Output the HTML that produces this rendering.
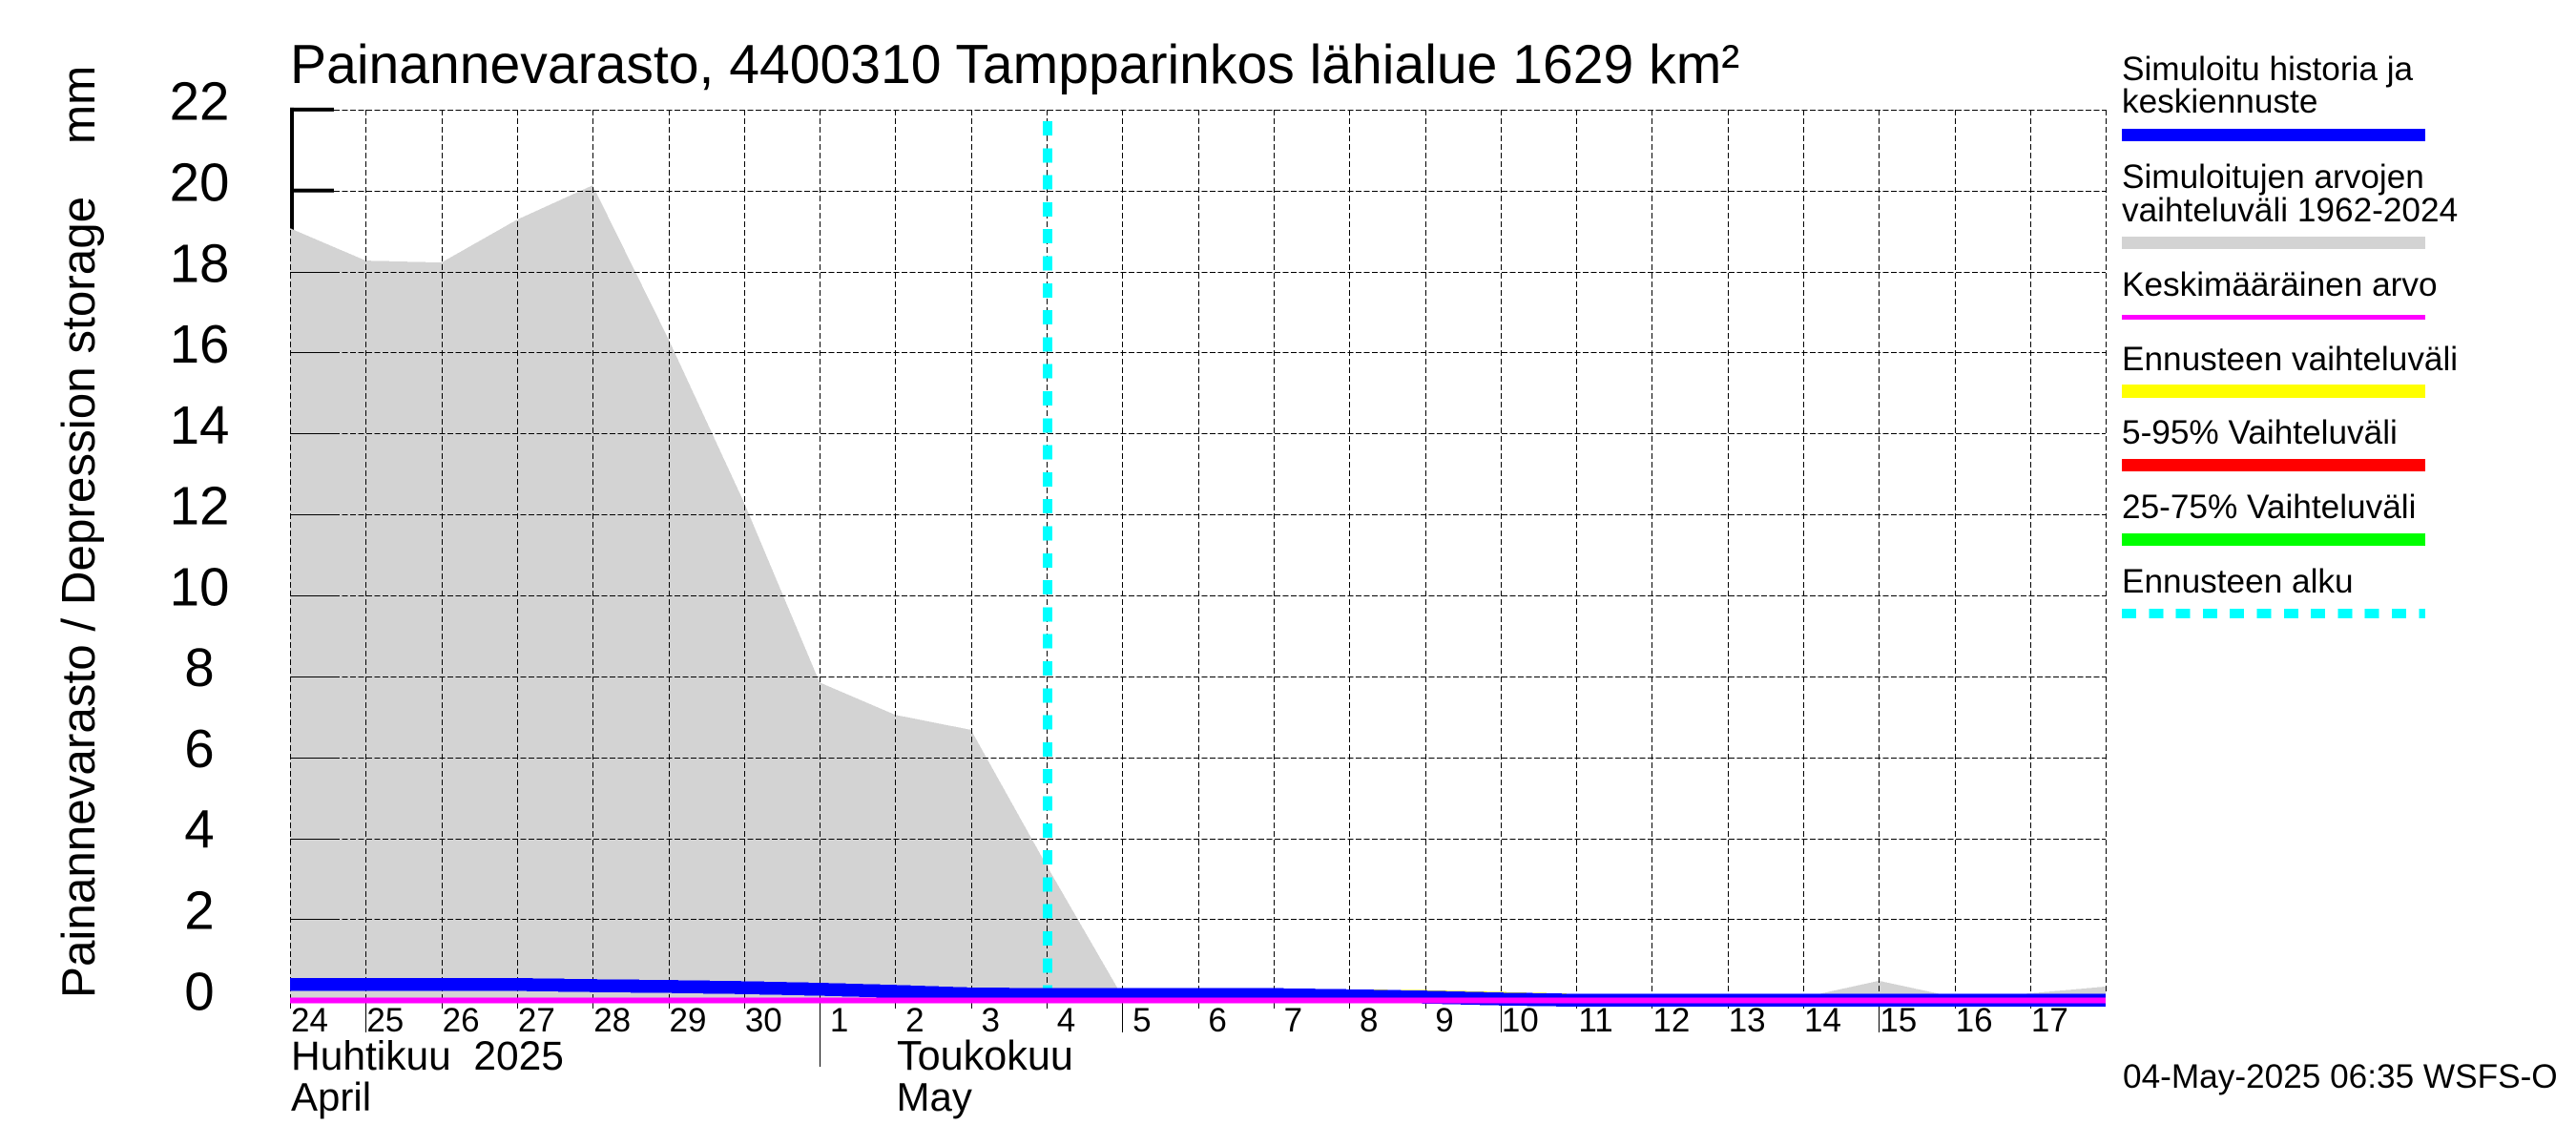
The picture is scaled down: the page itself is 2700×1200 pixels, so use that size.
<!DOCTYPE html>
<html lang="fi">
<head>
<meta charset="utf-8">
<title>Painannevarasto</title>
<style>
html,body{margin:0;padding:0;background:#fff;}
svg{display:block;}
text{font-family:"Liberation Sans",sans-serif;fill:#000;white-space:pre;}
</style>
</head>
<body>
<svg id="chart" xmlns="http://www.w3.org/2000/svg" width="2700" height="1200" viewBox="0 0 2700 1200">
  <rect x="0" y="0" width="2700" height="1200" fill="#fff"/>
  <g id="axis-under"></g>
  <g id="range"></g>
  <g id="grid"></g>
  <g id="start"></g>
  <g id="series"></g>
  <g id="labels"></g>

  <text x="304" y="87" font-size="57.1">Painannevarasto, 4400310 Tampparinkos lähialue 1629 km²</text>
  <text transform="translate(99,1046) rotate(-90)" font-size="49.4">Painannevarasto / Depression storage    mm</text>

  <text x="305" y="1121" font-size="42.5">Huhtikuu  2025</text>
  <text x="305" y="1164" font-size="42">April</text>
  <text x="940" y="1121" font-size="43.2">Toukokuu</text>
  <text x="939.5" y="1164" font-size="42">May</text>
  <text x="2225" y="1140" font-size="35.2">04-May-2025 06:35 WSFS-O</text>

  <g font-size="35.2">
    <g>
      <text x="2224" y="84">Simuloitu historia ja</text>
      <text x="2224" y="118">keskiennuste</text>
      <rect x="2224" y="135" width="318" height="13" fill="#0000ff"/>
    </g>
    <g>
      <text x="2224" y="197">Simuloitujen arvojen</text>
      <text x="2224" y="232">vaihteluväli 1962-2024</text>
      <rect x="2224" y="248" width="318" height="13" fill="#d3d3d3"/>
    </g>
    <g>
      <text x="2224" y="310">Keskimääräinen arvo</text>
      <rect x="2224" y="330" width="318" height="5" fill="#ff00ff"/>
    </g>
    <g>
      <text x="2224" y="388">Ennusteen vaihteluväli</text>
      <rect x="2224" y="403" width="318" height="14" fill="#ffff00"/>
    </g>
    <g>
      <text x="2224" y="465">5-95% Vaihteluväli</text>
      <rect x="2224" y="481" width="318" height="13" fill="#ff0000"/>
    </g>
    <g>
      <text x="2224" y="543">25-75% Vaihteluväli</text>
      <rect x="2224" y="559" width="318" height="13" fill="#00ff00"/>
    </g>
    <g>
      <text x="2224" y="621">Ennusteen alku</text>
      <line x1="2224" x2="2542" y1="643" y2="643" stroke="#00ffff" stroke-width="10" stroke-dasharray="15 13.3" shape-rendering="crispEdges"/>
    </g>
  </g>
</svg>
<script>
const dayLabels = ['24','25','26','27','28','29','30','1','2','3','4','5','6','7','8','9','10','11','12','13','14','15','16','17'];
const longTickDays = ['25','5','10','15'];
const monthTickDays = ['1'];
const yTickValues = [0,2,4,6,8,10,12,14,16,18,20,22];
const rangeMax = [19.07,18.27,18.22,19.28,20.13,16.34,12.3,7.85,7.05,6.68,3.33,0.1,0,0,0,0,0,0,0,0,0.07,0.48,0.08,0.17,0.34];
const simulated = [0.39,0.39,0.39,0.39,0.36,0.34,0.31,0.27,0.22,0.155,0.14,0.14,0.14,0.14,0.11,0.078,0.03,0,0,0,0,0,0,0,0];
const meanValues = [0,0,0,0,0,0,0,0,0,0,0,0,0,0,0,0,0,0,0,0,0,0,0,0,0];
const forecastUpper = [null,null,null,null,null,null,null,null,null,null,0.14,0.14,0.14,0.14,0.11,0.09,0.045,0,0,0,0,0,0,0,0];
const forecast95 = [null,null,null,null,null,null,null,null,null,null,0.14,0.14,0.14,0.14,0.11,0.078,0.03,0,0,0,0,0,0,0,0];
const forecast75 = [null,null,null,null,null,null,null,null,null,null,0.14,0.14,0.14,0.14,0.11,0.078,0.03,0,0,0,0,0,0,0,0];
const forecastStartIndex = 10;
const yTop = 22;

const NS = 'http://www.w3.org/2000/svg';
const X0 = 304, DAY = 79.3, Y0 = 1048.3, UNIT = 42.43;
function xDay(i){ return X0 + DAY * i; }
function yVal(v){ return Y0 - UNIT * v; }
function mk(tag, parent, attrs){
  const el = document.createElementNS(NS, tag);
  for (const k in attrs) el.setAttribute(k, attrs[k]);
  document.getElementById(parent).appendChild(el);
  return el;
}
function pointsOf(values){
  const pts = [];
  values.forEach(function(v, i){ if (v !== null) pts.push(xDay(i).toFixed(1) + ',' + yVal(v).toFixed(1)); });
  return pts.join(' ');
}

/* heavy axis (hidden by the range fill where they overlap) */
const axisLine = mk('rect', 'axis-under', {x: X0, y: yVal(yTop) - 2, width: 4, height: Y0 - yVal(yTop) + 2, fill: '#000'});


yTickValues.forEach(function(v){
  const t = mk('rect', 'axis-under', {x: X0, y: yVal(v) - 2, width: 46, height: 4, fill: '#000'});
  
  
});

/* historical range */
const rangePts = pointsOf(rangeMax) + ' ' + xDay(rangeMax.length - 1).toFixed(1) + ',' + yVal(0) + ' ' + X0 + ',' + yVal(0);
const rangeEl = mk('polygon', 'range', {points: rangePts, fill: '#d3d3d3', 'shape-rendering': 'crispEdges'});



/* horizontal grid + ticks */
yTickValues.forEach(function(v){
  const y = Math.round(yVal(v)) + 0.5;
  if (v > 0) {
    const s = mk('line', 'grid', {x1: X0, x2: X0 + 46, y1: y, y2: y, stroke: '#000', 'stroke-width': 1, 'shape-rendering': 'crispEdges'});
    
    
    const g = mk('line', 'grid', {x1: X0 + 46, x2: xDay(dayLabels.length), y1: y, y2: y, stroke: '#000', 'stroke-width': 1, 'stroke-dasharray': '6 2.5', 'shape-rendering': 'crispEdges'});
    
    
  }
  const lab = mk('text', 'labels', {x: 209, y: yVal(v) + 10 + 0.04 * v, 'font-size': 56.5, 'text-anchor': 'middle'});
  lab.textContent = String(v);
  
  
});

/* vertical grid + ticks + day labels */
dayLabels.forEach(function(d, i){
  const x = Math.round(xDay(i)) + 0.5;
  const g = mk('line', 'grid', {x1: x, x2: x, y1: yVal(yTop), y2: 1050, stroke: '#000', 'stroke-width': 1, 'stroke-dasharray': '6 3', 'shape-rendering': 'crispEdges'});
  
  
  let end = 1057;
  if (longTickDays.indexOf(d) >= 0) end = 1082;
  if (monthTickDays.indexOf(d) >= 0) end = 1118;
  const t = mk('line', 'grid', {x1: x, x2: x, y1: 1048, y2: end, stroke: '#000', 'stroke-width': 1, 'shape-rendering': 'crispEdges'});
  
  
  const lab = mk('text', 'labels', {x: xDay(i) + 20.5, y: 1081, 'font-size': 35, 'text-anchor': 'middle'});
  lab.textContent = d;
  
  
});
const edgeX = Math.round(xDay(dayLabels.length)) + 0.5;
const edge = mk('line', 'grid', {x1: edgeX, x2: edgeX, y1: yVal(yTop), y2: 1042, stroke: '#000', 'stroke-width': 1, 'stroke-dasharray': '6 3', 'shape-rendering': 'crispEdges'});



/* forecast start marker */
const startX = xDay(forecastStartIndex) + 1;
const startLine = mk('line', 'start', {x1: startX, x2: startX, y1: 127, y2: Y0, stroke: '#00ffff', 'stroke-width': 10, 'stroke-dasharray': '15 13.3', 'shape-rendering': 'crispEdges'});



/* series */
function band(values, color, width){
  return mk('polyline', 'series', {points: pointsOf(values), fill: 'none', stroke: color, 'stroke-width': width, 'stroke-linejoin': 'bevel', 'shape-rendering': 'crispEdges'});
}
const upperEl = band(forecastUpper, '#ffff00', 13.6);


const p95El = band(forecast95, '#ff0000', 12);


const p75El = band(forecast75, '#00ff00', 12);


const simEl = band(simulated, '#0000ff', 13.6);


const meanEl = band(meanValues, '#ff00ff', 6);


</script>
</body>
</html>
